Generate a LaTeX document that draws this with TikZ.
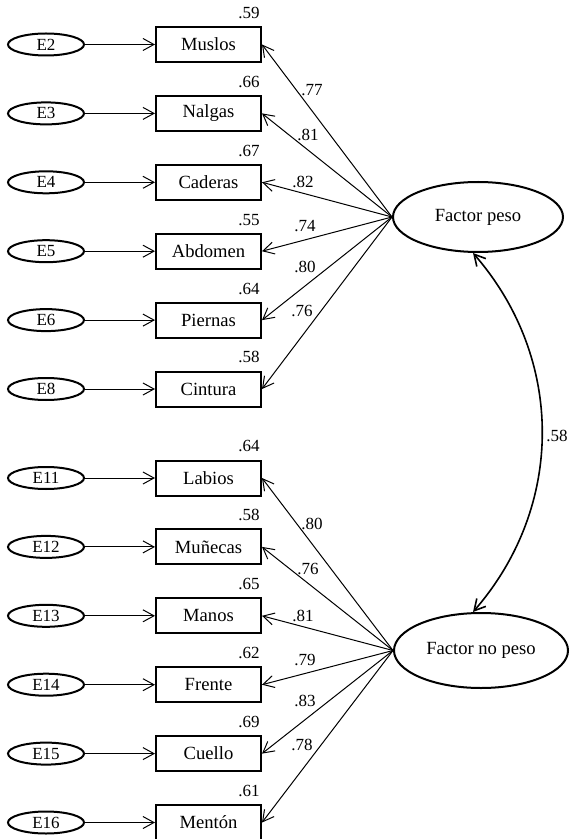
\documentclass[tikz,border=0pt]{standalone}
\usepackage{fontspec}
\setmainfont{Liberation Serif}
\usetikzlibrary{shapes.geometric, arrows.meta, positioning}
\tikzstyle{observed} = [rectangle, minimum width=52.5pt, minimum height=17.5pt, text centered, draw=black, line width=1pt, font=\fontsize{9.3}{11}\selectfont]
\tikzstyle{errorvar} = [ellipse, minimum width=38pt, minimum height=11pt, inner sep=0pt, draw=black, line width=1pt, font=\fontsize{8.5}{10}\selectfont]
\tikzstyle{factor} = [ellipse, minimum width=85pt, minimum height=35pt, inner sep=0pt, draw=black, line width=1pt, font=\fontsize{9.3}{11}\selectfont]
\tikzstyle{coef} = [inner sep=0pt, font=\fontsize{8.5}{10}\selectfont]
\tikzstyle{rsq} = [coef, anchor=base east, xshift=-1pt, yshift=3.8pt]
\tikzstyle{arrow} = [line width=0.5pt, ->, >={Straight Barb[length=5.5pt, width=6pt]}]
\tikzstyle{corr} = [line width=0.8pt, <->, >={Straight Barb[length=5.5pt, width=6pt]}]

\begin{document}
\begin{tikzpicture}[x=0.5pt, y=-0.5pt, node distance=34.45pt]
\useasboundingbox (0,0) rectangle (569,839);

% Indicadores del factor peso
\node (muslos) [observed] at (208.5,44.5) {Muslos};
\node (nalgas) [observed, below of=muslos] {Nalgas};
\node (caderas) [observed, below of=nalgas] {Caderas};
\node (abdomen) [observed, below of=caderas] {Abdomen};
\node (piernas) [observed, below of=abdomen] {Piernas};
\node (cintura) [observed, below of=piernas] {Cintura};

% Indicadores del factor no peso
\node (labios) [observed] at (208.5,478) {Labios};
\node (munecas) [observed, below of=labios] {Muñecas};
\node (manos) [observed, below of=munecas] {Manos};
\node (frente) [observed, below of=manos] {Frente};
\node (cuello) [observed, below of=frente] {Cuello};
\node (menton) [observed, below of=cuello] {Mentón};

% Errores
\node (e2) [errorvar, left=35pt of muslos] {E2};
\node (e3) [errorvar, left=35pt of nalgas] {E3};
\node (e4) [errorvar, left=35pt of caderas] {E4};
\node (e5) [errorvar, left=35pt of abdomen] {E5};
\node (e6) [errorvar, left=35pt of piernas] {E6};
\node (e8) [errorvar, left=35pt of cintura] {E8};
\node (e11) [errorvar, left=35pt of labios] {E11};
\node (e12) [errorvar, left=35pt of munecas] {E12};
\node (e13) [errorvar, left=35pt of manos] {E13};
\node (e14) [errorvar, left=35pt of frente] {E14};
\node (e15) [errorvar, left=35pt of cuello] {E15};
\node (e16) [errorvar, left=35pt of menton] {E16};

% Factores latentes
\node (fpeso) [factor] at (478,217) {Factor peso};
\node (fnopeso) [factor, minimum width=87pt, minimum height=37.5pt] at (481,650.5) {Factor no peso};

% Cargas y correlacion
\draw [arrow] (e2) -- (muslos);
\draw [arrow] (e3) -- (nalgas);
\draw [arrow] (e4) -- (caderas);
\draw [arrow] (e5) -- (abdomen);
\draw [arrow] (e6) -- (piernas);
\draw [arrow] (e8) -- (cintura);
\draw [arrow] (e11) -- (labios);
\draw [arrow] (e12) -- (munecas);
\draw [arrow] (e13) -- (manos);
\draw [arrow] (e14) -- (frente);
\draw [arrow] (e15) -- (cuello);
\draw [arrow] (e16) -- (menton);

\draw [arrow] (fpeso.west) -- (muslos.east);
\draw [arrow] (fpeso.west) -- (nalgas.east);
\draw [arrow] (fpeso.west) -- (caderas.east);
\draw [arrow] (fpeso.west) -- (abdomen.east);
\draw [arrow] (fpeso.west) -- (piernas.east);
\draw [arrow] (fpeso.west) -- (cintura.east);
\draw [arrow] (fnopeso.west) -- (labios.east);
\draw [arrow] (fnopeso.west) -- (munecas.east);
\draw [arrow] (fnopeso.west) -- (manos.east);
\draw [arrow] (fnopeso.west) -- (frente.east);
\draw [arrow] (fnopeso.west) -- (cuello.east);
\draw [arrow] (fnopeso.west) -- (menton.east);

\draw [corr] ([xshift=-2.5pt]fpeso.south) to[bend left=41] ([xshift=-4pt]fnopeso.north);
\node (rcorr) [coef] at (557,436) {.58};

% Valores R2
\node (rmuslos) [rsq] at (muslos.north east) {.59};
\node (rnalgas) [rsq] at (nalgas.north east) {.66};
\node (rcaderas) [rsq] at (caderas.north east) {.67};
\node (rabdomen) [rsq] at (abdomen.north east) {.55};
\node (rpiernas) [rsq] at (piernas.north east) {.64};
\node (rcintura) [rsq] at (cintura.north east) {.58};
\node (rlabios) [rsq] at (labios.north east) {.64};
\node (rmunecas) [rsq] at (munecas.north east) {.58};
\node (rmanos) [rsq] at (manos.north east) {.65};
\node (rfrente) [rsq] at (frente.north east) {.62};
\node (rcuello) [rsq] at (cuello.north east) {.69};
\node (rmenton) [rsq] at (menton.north east) {.61};

% Cargas factoriales
\node (lmuslos) [coef] at (312,90) {.77};
\node (lnalgas) [coef] at (308,135) {.81};
\node (lcaderas) [coef] at (303,182) {.82};
\node (labdomen) [coef] at (305,226) {.74};
\node (lpiernas) [coef] at (305,267) {.80};
\node (lcintura) [coef] at (302,311) {.76};
\node (llabios) [coef] at (312,523.5) {.80};
\node (lmunecas) [coef] at (308,568.5) {.76};
\node (lmanos) [coef] at (303,615.5) {.81};
\node (lfrente) [coef] at (305,659.5) {.79};
\node (lcuello) [coef] at (305,700.5) {.83};
\node (lmenton) [coef] at (302,744.5) {.78};

\end{tikzpicture}
\end{document}
